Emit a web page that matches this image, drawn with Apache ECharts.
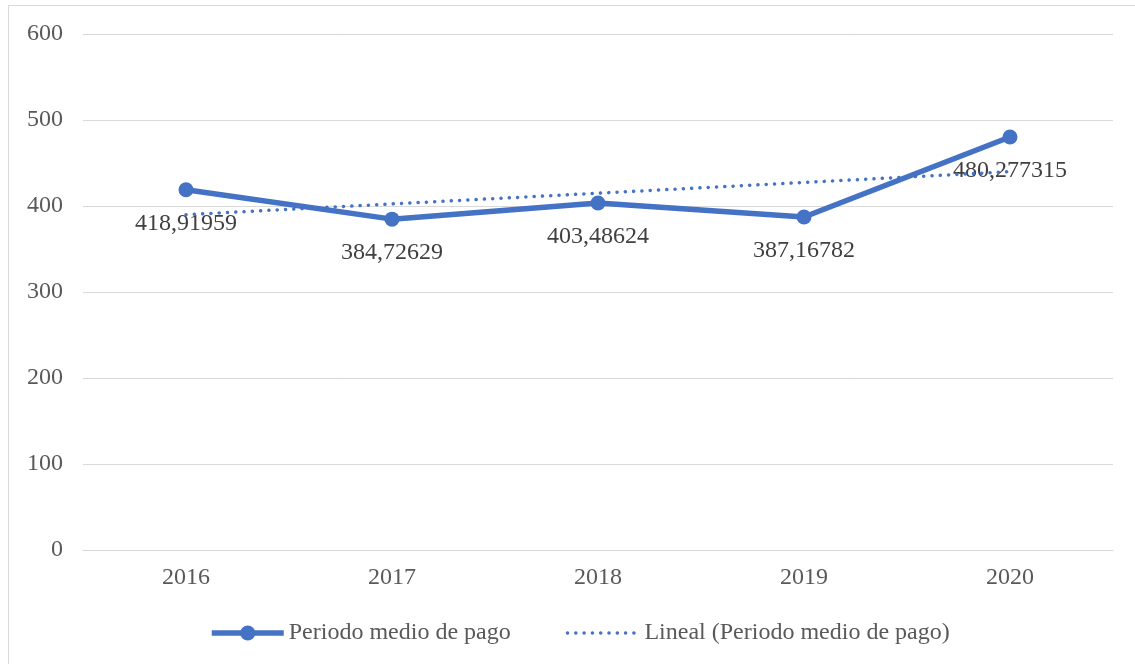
<!DOCTYPE html>
<html>
<head>
<meta charset="utf-8">
<script src="https://cdn.jsdelivr.net/npm/echarts@6/dist/echarts.min.js"></script>
<style>
  html, body { margin: 0; padding: 0; background: #ffffff; overflow: hidden; }
  #frame { position: absolute; left: 8px; top: 5px; width: 1140px; height: 670px; border-left: 1px solid #d9d9d9; border-top: 1px solid #d9d9d9; box-sizing: border-box; }
  #chart { position: absolute; left: 0; top: 0; width: 1135px; height: 664px; }
</style>
</head>
<body>
<div id="frame"></div>
<div id="chart"></div>
<script>
// Años y periodo medio de pago (días)
const years = ['2016', '2017', '2018', '2019', '2020'];
const periodoMedio = [418.91959, 384.72629, 403.48624, 387.16782, 480.277315];
// Línea de tendencia lineal
const tendencia = [389.9, 402.4, 414.9, 427.4, 439.9];
const yTicks = { min: 0, max: 600, interval: 100 };

const serif = '"Liberation Serif", "Times New Roman", serif';
const blue = '#4472C4';
const dotted = { color: blue, width: 3.5, type: [0.1, 8.2], cap: 'round' };

const chart = echarts.init(document.getElementById('chart'));
chart.setOption({
  animation: false,
  textStyle: { fontFamily: serif },
  grid: { left: 83, right: 22, top: 34, bottom: 114 },
  xAxis: {
    type: 'category',
    data: years,
    boundaryGap: true,
    axisLine: { lineStyle: { color: '#d9d9d9', width: 1 } },
    axisTick: { show: false },
    axisLabel: { color: '#595959', fontSize: 24, fontFamily: serif, margin: 16 }
  },
  yAxis: {
    type: 'value',
    min: yTicks.min,
    max: yTicks.max,
    interval: yTicks.interval,
    axisLine: { show: false },
    axisTick: { show: false },
    splitLine: { lineStyle: { color: '#d9d9d9', width: 1 } },
    axisLabel: { color: '#595959', fontSize: 24, fontFamily: serif, margin: 20 }
  },
  legend: {
    left: 204,
    top: 616,
    itemWidth: 72,
    itemHeight: 19,
    itemGap: 55,
    textStyle: { color: '#595959', fontSize: 24, fontFamily: serif },
    data: [
      { name: 'Periodo medio de pago', lineStyle: { width: 5.5, color: blue }, itemStyle: { color: blue } },
      { name: 'Lineal (Periodo medio de pago)', lineStyle: dotted, itemStyle: { opacity: 0 } }
    ]
  },
  series: [
    {
      name: 'Periodo medio de pago',
      type: 'line',
      data: periodoMedio,
      symbol: 'circle',
      symbolSize: 15,
      lineStyle: { color: blue, width: 5.5 },
      itemStyle: { color: blue },
      label: {
        show: true,
        position: 'bottom',
        distance: 14,
        color: '#404040',
        fontSize: 24,
        fontFamily: serif,
        formatter: p => String(p.value).replace('.', ',')
      },
      z: 2
    },
    {
      name: 'Lineal (Periodo medio de pago)',
      type: 'line',
      data: tendencia,
      symbol: 'none',
      lineStyle: dotted,
      itemStyle: { color: blue },
      z: 3
    }
  ]
});
</script>
</body>
</html>
